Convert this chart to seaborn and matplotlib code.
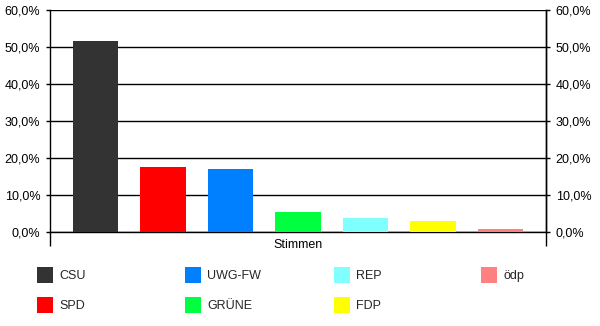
import matplotlib
matplotlib.use("Agg")
import matplotlib.pyplot as plt
from matplotlib.patches import Patch
from matplotlib.ticker import FuncFormatter
import seaborn as sns
import pandas as pd

parties = ["CSU", "SPD", "UWG-FW", "GRÜNE", "REP", "FDP", "ödp"]
values = [51.6, 17.6, 17.1, 5.6, 3.9, 3.1, 0.9]
colors = ["#333333", "#FF0000", "#0080FF", "#00FF40", "#80FFFF", "#FFFF00", "#FF8080"]
category = "Stimmen"
yticks = [0, 10, 20, 30, 40, 50, 60]

sns.set_theme(style="white")
plt.rcParams["font.family"] = ["Liberation Sans", "DejaVu Sans"]
FS = 9
PX = 72 / 100  # points per pixel

df = pd.DataFrame({"party": parties, "value": values})
palette = dict(zip(parties, colors))

fig = plt.figure(figsize=(6, 3.26), dpi=100)
ax = fig.add_axes([50.3 / 600, 1 - 232.3 / 326, (545.7 - 50.3) / 600, (232.3 - 10) / 326])
sns.barplot(data=df, x="party", y="value", hue="party", palette=palette,
            width=0.68, legend=False, ax=ax, saturation=1, zorder=3)
for p in ax.patches:
    p.set_edgecolor("none")

ax.set_ylim(0, 60)
ax.set_xlim(-0.67, 6.67)
ax.set_xlabel("")
ax.set_ylabel("")
ax.set_axisbelow(True)
ax.yaxis.grid(True, color="black", linewidth=1)
ax.xaxis.grid(False)

fmt = FuncFormatter(lambda v, p: f"{v:.1f}".replace(".", ",") + "%")
ax.set_yticks(yticks)
ax.yaxis.set_major_formatter(fmt)
ax.tick_params(axis="y", which="both", left=True, direction="out", length=4 * PX, width=1,
               color="black", labelsize=FS, pad=6 * PX, labelcolor="black")

ax.set_xticks([-0.67, 6.67])
ax.set_xticklabels(["", ""])
ax.set_xticks([3], minor=True)
ax.set_xticklabels([category], minor=True)
ax.tick_params(axis="x", which="major", bottom=True, direction="out", length=14 * PX, width=1, color="black")
ax.tick_params(axis="x", which="minor", bottom=False, length=0, labelsize=FS, pad=7 * PX, labelcolor="black")

for side in ["left", "right", "bottom"]:
    ax.spines[side].set_color("black")
    ax.spines[side].set_linewidth(1)
    ax.spines[side].set_visible(True)
ax.spines["top"].set_visible(False)

ax2 = ax.twinx()
ax2.set_ylim(0, 60)
ax2.set_yticks(yticks)
ax2.yaxis.set_major_formatter(fmt)
ax2.tick_params(axis="y", right=True, direction="out", length=4 * PX, width=1, color="black",
                labelsize=FS, pad=6 * PX, labelcolor="black")
for side in ["left", "top", "bottom"]:
    ax2.spines[side].set_visible(False)
ax2.spines["right"].set_color("black")
ax2.spines["right"].set_linewidth(1)
ax2.grid(False)

# legend: columns of two items each
col_x = [37, 185, 334, 481]
fs_px = FS * 100 / 72
hh = (16 / fs_px - 0.245) / 0.65
for c in range(4):
    idx = list(range(2 * c, min(2 * c + 2, len(parties))))
    handles = [Patch(facecolor=colors[i], edgecolor="none") for i in idx]
    labels = [parties[i] for i in idx]
    fig.legend(handles, labels, loc="upper left",
               bbox_to_anchor=(col_x[c] / 600, 1 - 267 / 326),
               bbox_transform=fig.transFigure,
               frameon=False, fontsize=FS, borderaxespad=0, borderpad=0,
               handlelength=16 / fs_px, handleheight=hh,
               handletextpad=6 / fs_px, labelspacing=14 / fs_px)

fig.savefig("out.png", dpi=100)
